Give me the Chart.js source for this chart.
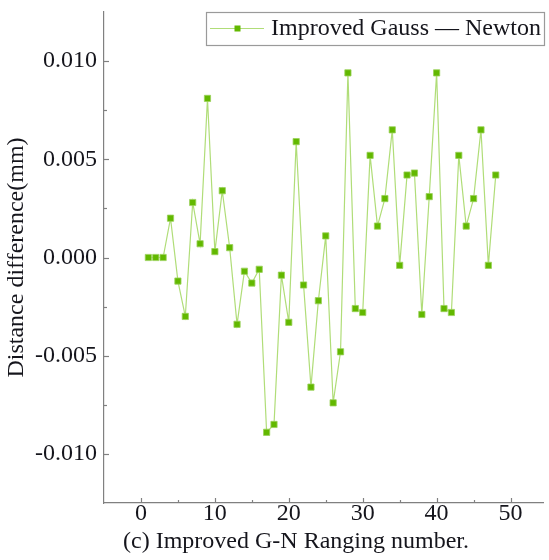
<!DOCTYPE html>
<html><head><meta charset="utf-8">
<script src="https://cdn.jsdelivr.net/npm/chart.js@4/dist/chart.umd.min.js"></script>
<style>html,body{margin:0;padding:0;background:#fff;}#wrap{width:549px;height:560px;}</style>
</head><body><div id="wrap"><canvas id="c" width="549" height="560"></canvas></div>
<script>
// ---- data ----
const rangingNumbers = [1,2,3,4,5,6,7,8,9,10,11,12,13,14,15,16,17,18,19,20,21,22,23,24,25,26,27,28,29,30,31,32,33,34,35,36,37,38,39,40,41,42,43,44,45,46,47,48];
const distanceDiff = [
  0.0000, 0.0000, 0.0000, 0.0020, -0.0012, -0.0030, 0.0028, 0.0007, 0.0081, 0.0003,
  0.0034, 0.0005, -0.0034, -0.0007, -0.0013, -0.0006, -0.0089, -0.0085, -0.0009, -0.0033,
  0.0059, -0.0014, -0.0066, -0.0022, 0.0011, -0.0074, -0.0048, 0.0094, -0.0026, -0.0028,
  0.0052, 0.0016, 0.0030, 0.0065, -0.0004, 0.0042, 0.0043, -0.0029, 0.0031, 0.0094,
  -0.0026, -0.0028, 0.0052, 0.0016, 0.0030, 0.0065, -0.0004, 0.0042
];
const xMajorTicks = [0, 10, 20, 30, 40, 50];
const xMinorTicks = [5, 15, 25, 35, 45];
const yMajorTicks = [-0.010, -0.005, 0.000, 0.005, 0.010];
const yMinorTicks = [-0.0075, -0.0025, 0.0025, 0.0075];
const seriesLabel = 'Improved Gauss \u2014 Newton';
const xTitle = '(c) Improved G-N Ranging number.';
const yTitle = 'Distance difference(mm)';

const FONT = '"Liberation Serif", "Times New Roman", serif';
const TEXT = '#15151c';
const AXIS = '#808080';
const LINE_C = '#b0dd78';
const MARK_C = '#62b800';

const decor = {
  id: 'decor',
  afterDraw(chart) {
    const {ctx, chartArea: a, scales: {x, y}} = chart;
    ctx.save();
    ctx.strokeStyle = AXIS; ctx.lineWidth = 1.2;
    const seg = (x1, y1, x2, y2) => { ctx.beginPath(); ctx.moveTo(x1, y1); ctx.lineTo(x2, y2); ctx.stroke(); };
    yMajorTicks.forEach(v => { const p = Math.round(y.getPixelForValue(v)) + 0.5; seg(a.left, p, a.left + 5, p); });
    yMinorTicks.forEach(v => { const p = Math.round(y.getPixelForValue(v)) + 0.5; seg(a.left, p, a.left + 3, p); });
    xMajorTicks.forEach(v => { const p = Math.round(x.getPixelForValue(v)) + 0.5; seg(p, a.bottom, p, a.bottom - 5); });
    xMinorTicks.forEach(v => { const p = Math.round(x.getPixelForValue(v)) + 0.5; seg(p, a.bottom, p, a.bottom - 3); });

    // x-axis title
    ctx.font = '24px ' + FONT; ctx.fillStyle = TEXT;
    ctx.textAlign = 'center'; ctx.textBaseline = 'middle';
    ctx.fillText(xTitle, 296, 542);

    // legend box
    const lx = 206.5, ly = 12.5, lw = 338, lh = 33;
    ctx.fillStyle = '#fff'; ctx.fillRect(lx, ly, lw, lh);
    ctx.strokeStyle = '#9a9a9a'; ctx.lineWidth = 1.2; ctx.strokeRect(lx, ly, lw, lh);
    ctx.strokeStyle = LINE_C; ctx.lineWidth = 1.2;
    seg(210, 28.5, 264, 28.5);
    ctx.fillStyle = MARK_C; ctx.fillRect(234.5, 25.5, 6, 6);
    ctx.fillStyle = TEXT; ctx.textAlign = 'left'; ctx.textBaseline = 'middle';
    ctx.font = '24px ' + FONT;
    ctx.fillText(seriesLabel, 271, 29);
    ctx.restore();
  }
};

new Chart(document.getElementById('c'), {
  type: 'line',
  data: {
    datasets: [{
      label: seriesLabel,
      data: rangingNumbers.map((n, i) => ({x: n, y: distanceDiff[i]})),
      borderColor: LINE_C,
      borderWidth: 1.2,
      tension: 0,
      pointStyle: 'rect',
      pointRadius: 4.4,
      pointBackgroundColor: MARK_C,
      pointBorderColor: '#9bd259',
      pointBorderWidth: 0.8,
      fill: false
    }]
  },
  options: {
    responsive: false,
    animation: false,
    devicePixelRatio: 1,
    layout: {padding: {top: 12, left: 0, right: 0, bottom: 0}},
    plugins: {legend: {display: false}, tooltip: {enabled: false}},
    scales: {
      x: {
        type: 'linear', min: -5, max: 54.5,
        grid: {display: false, drawTicks: false},
        border: {display: true, color: AXIS, width: 1.2},
        afterBuildTicks: s => { s.ticks = xMajorTicks.map(v => ({value: v})); },
        ticks: {padding: -4, color: TEXT, font: {family: FONT, size: 24}, maxRotation: 0, autoSkip: false,
                callback: v => String(v)},
        afterFit: s => { s.height = 57; s.paddingLeft = 0; s.paddingRight = 0; }
      },
      y: {
        type: 'linear', min: -0.0125, max: 0.0125,
        grid: {display: false, drawTicks: false},
        border: {display: true, color: AXIS, width: 1.2},
        afterBuildTicks: s => { s.ticks = yMajorTicks.map(v => ({value: v})); },
        ticks: {padding: 7, color: TEXT, font: {family: FONT, size: 24}, autoSkip: false,
                callback: v => v.toFixed(3)},
        title: {display: true, text: yTitle, color: TEXT, font: {family: FONT, size: 24}, padding: {top: 2.5, bottom: 0}},
        afterFit: s => { s.width = 104; s.paddingTop = 0; s.paddingBottom = 0; }
      }
    }
  },
  plugins: [decor]
});
</script>
</body></html>
